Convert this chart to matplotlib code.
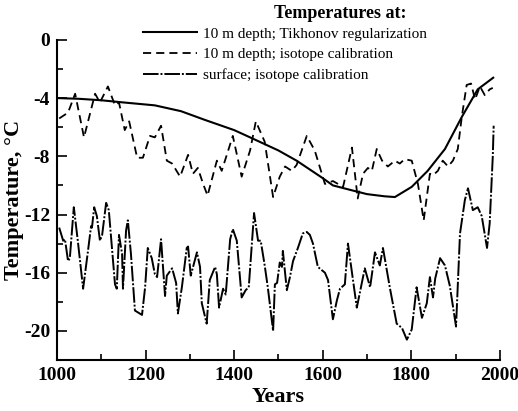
import numpy as np
import matplotlib
matplotlib.use("Agg")
import matplotlib.pyplot as plt
from matplotlib.ticker import MultipleLocator

plt.rcParams.update({"font.family": ["Liberation Serif", "DejaVu Serif"],
                     "axes.unicode_minus": False})

# 10 m depth; Tikhonov regularization
tik_year = [1000, 1050, 1100, 1150, 1221, 1280, 1334, 1400, 1436, 1500, 1541, 1600,
            1623, 1661, 1700, 1740, 1763, 1801, 1837, 1876, 1914, 1950, 1985]
tik_temp = [-4.0, -4.05, -4.15, -4.3, -4.5, -4.9, -5.5, -6.2, -6.7, -7.6, -8.3, -9.5,
            -10.0, -10.3, -10.6, -10.75, -10.8, -10.1, -9.0, -7.5, -5.3, -3.4, -2.6]

# 10 m depth; isotope calibration
iso_year = [1005, 1025, 1041, 1061, 1086, 1097, 1115, 1131, 1140, 1153, 1163, 1181, 1194,
            1210, 1221, 1235, 1248, 1260, 1278, 1296, 1307, 1318, 1330, 1340, 1361, 1372,
            1397, 1417, 1436, 1449, 1469, 1488, 1503, 1515, 1530, 1541, 1564, 1582, 1605,
            1623, 1646, 1666, 1679, 1691, 1702, 1711, 1722, 1734, 1747, 1763, 1774, 1785,
            1801, 1815, 1828, 1842, 1849, 1860, 1871, 1883, 1894, 1905, 1914, 1925, 1935,
            1944, 1955, 1966, 1977, 1984]
iso_temp = [-5.4, -5.0, -3.7, -6.7, -3.7, -4.3, -3.2, -4.5, -4.3, -6.2, -5.6, -8.1, -8.1,
            -6.6, -6.7, -5.9, -8.3, -8.5, -9.4, -7.9, -9.2, -8.8, -9.9, -10.7, -8.3, -9.0,
            -6.6, -9.4, -7.6, -5.6, -7.0, -10.8, -9.4, -8.7, -9.0, -8.6, -6.6, -7.6, -9.9,
            -9.7, -10.1, -7.4, -10.9, -9.2, -8.8, -9.0, -7.5, -8.3, -8.7, -8.3, -8.5, -8.2,
            -8.3, -9.9, -12.4, -9.2, -9.3, -9.0, -8.3, -8.7, -8.3, -7.5, -5.3, -3.1, -3.0,
            -4.1, -3.2, -3.8, -3.4, -3.3]

# surface; isotope calibration
srf_year = [1005, 1014, 1018, 1025, 1029, 1038, 1047, 1059, 1070, 1077, 1079, 1084, 1090,
            1097, 1102, 1111, 1117, 1131, 1135, 1140, 1147, 1149, 1156, 1160, 1167, 1176,
            1192, 1199, 1205, 1214, 1221, 1226, 1235, 1244, 1248, 1260, 1269, 1273, 1282,
            1293, 1296, 1302, 1309, 1316, 1323, 1327, 1338, 1345, 1357, 1361, 1366, 1375,
            1381, 1391, 1397, 1406, 1417, 1426, 1433, 1445, 1454, 1460, 1469, 1476, 1488,
            1492, 1497, 1503, 1508, 1510, 1519, 1526, 1533, 1544, 1555, 1564, 1571, 1578,
            1589, 1605, 1612, 1623, 1632, 1639, 1650, 1657, 1677, 1695, 1707, 1718, 1729,
            1736, 1752, 1767, 1779, 1790, 1801, 1812, 1824, 1835, 1842, 1849, 1854, 1865,
            1876, 1887, 1901, 1910, 1921, 1928, 1939, 1950, 1959, 1971, 1977, 1984, 1986]
srf_temp = [-12.9, -13.8, -13.7, -15.2, -15.0, -11.5, -13.8, -17.1, -14.5, -12.8, -12.9,
            -11.5, -12.1, -13.8, -13.4, -11.2, -11.7, -16.8, -17.1, -13.4, -14.7, -17.1,
            -13.1, -12.4, -14.7, -18.6, -18.9, -17.0, -14.3, -15.0, -16.1, -16.3, -13.7,
            -17.6, -16.2, -15.7, -16.7, -18.8, -17.0, -14.3, -14.2, -16.2, -15.4, -14.6,
            -15.6, -18.1, -19.5, -16.5, -15.6, -16.1, -18.4, -17.1, -17.5, -13.7, -13.0,
            -13.8, -17.7, -17.2, -17.0, -11.9, -13.8, -13.8, -15.5, -17.0, -20.0, -16.8,
            -16.7, -15.3, -15.6, -14.5, -17.2, -16.3, -15.2, -14.3, -13.3, -13.2, -13.4,
            -14.0, -15.6, -16.0, -16.5, -19.2, -17.9, -17.1, -16.8, -14.0, -18.4, -15.7,
            -17.0, -14.6, -15.5, -14.3, -17.1, -19.5, -19.8, -20.6, -19.9, -17.0, -19.1,
            -18.1, -16.3, -17.7, -16.4, -15.0, -15.5, -16.9, -19.7, -13.3, -11.0, -10.2,
            -11.7, -11.5, -12.1, -14.3, -12.6, -8.0, -5.9]

fig = plt.figure(figsize=(5.18, 4.11), dpi=100)
ax = fig.add_axes([0.110, 0.124, 0.855, 0.779])

ax.plot(tik_year, tik_temp, color="black", lw=1.5,
        label="10 m depth; Tikhonov regularization")
ax.plot(iso_year, iso_temp, color="black", lw=1.3, dashes=(4.5, 2.8),
        label="10 m depth; isotope calibration")
ax.plot(srf_year, srf_temp, color="black", lw=1.4, dashes=(8, 1, 1, 1),
        label="surface; isotope calibration")

ax.set_xlim(1000, 2000)
ax.set_ylim(-22, 0)
ax.xaxis.set_major_locator(MultipleLocator(200))
ax.xaxis.set_minor_locator(MultipleLocator(100))
ax.yaxis.set_major_locator(MultipleLocator(4))
ax.yaxis.set_minor_locator(MultipleLocator(2))
ax.tick_params(which="major", direction="in", length=7, width=1.2, labelsize=14, pad=5)
ax.tick_params(which="minor", direction="in", length=4, width=1.2)
for lab in ax.get_xticklabels() + ax.get_yticklabels():
    lab.set_fontweight("bold")
for s in ["top", "right"]:
    ax.spines[s].set_visible(False)
for s in ["left", "bottom"]:
    ax.spines[s].set_linewidth(1.5)

ax.set_xlabel("Years", fontsize=16, fontweight="bold", labelpad=2)
ax.set_ylabel("Temperature, °C", fontsize=16, fontweight="bold", labelpad=-0.5)

leg = ax.legend(loc="upper left", bbox_to_anchor=(0.195, 1.04), frameon=False,
                fontsize=11, handlelength=3.5, labelspacing=0.45,
                handletextpad=0.4, borderaxespad=0, borderpad=0)
fig.text(340 / 518, 1 - 13 / 411, "Temperatures at:", ha="center", va="center",
         fontsize=13, fontweight="bold")

fig.savefig("out.png", dpi=100)
